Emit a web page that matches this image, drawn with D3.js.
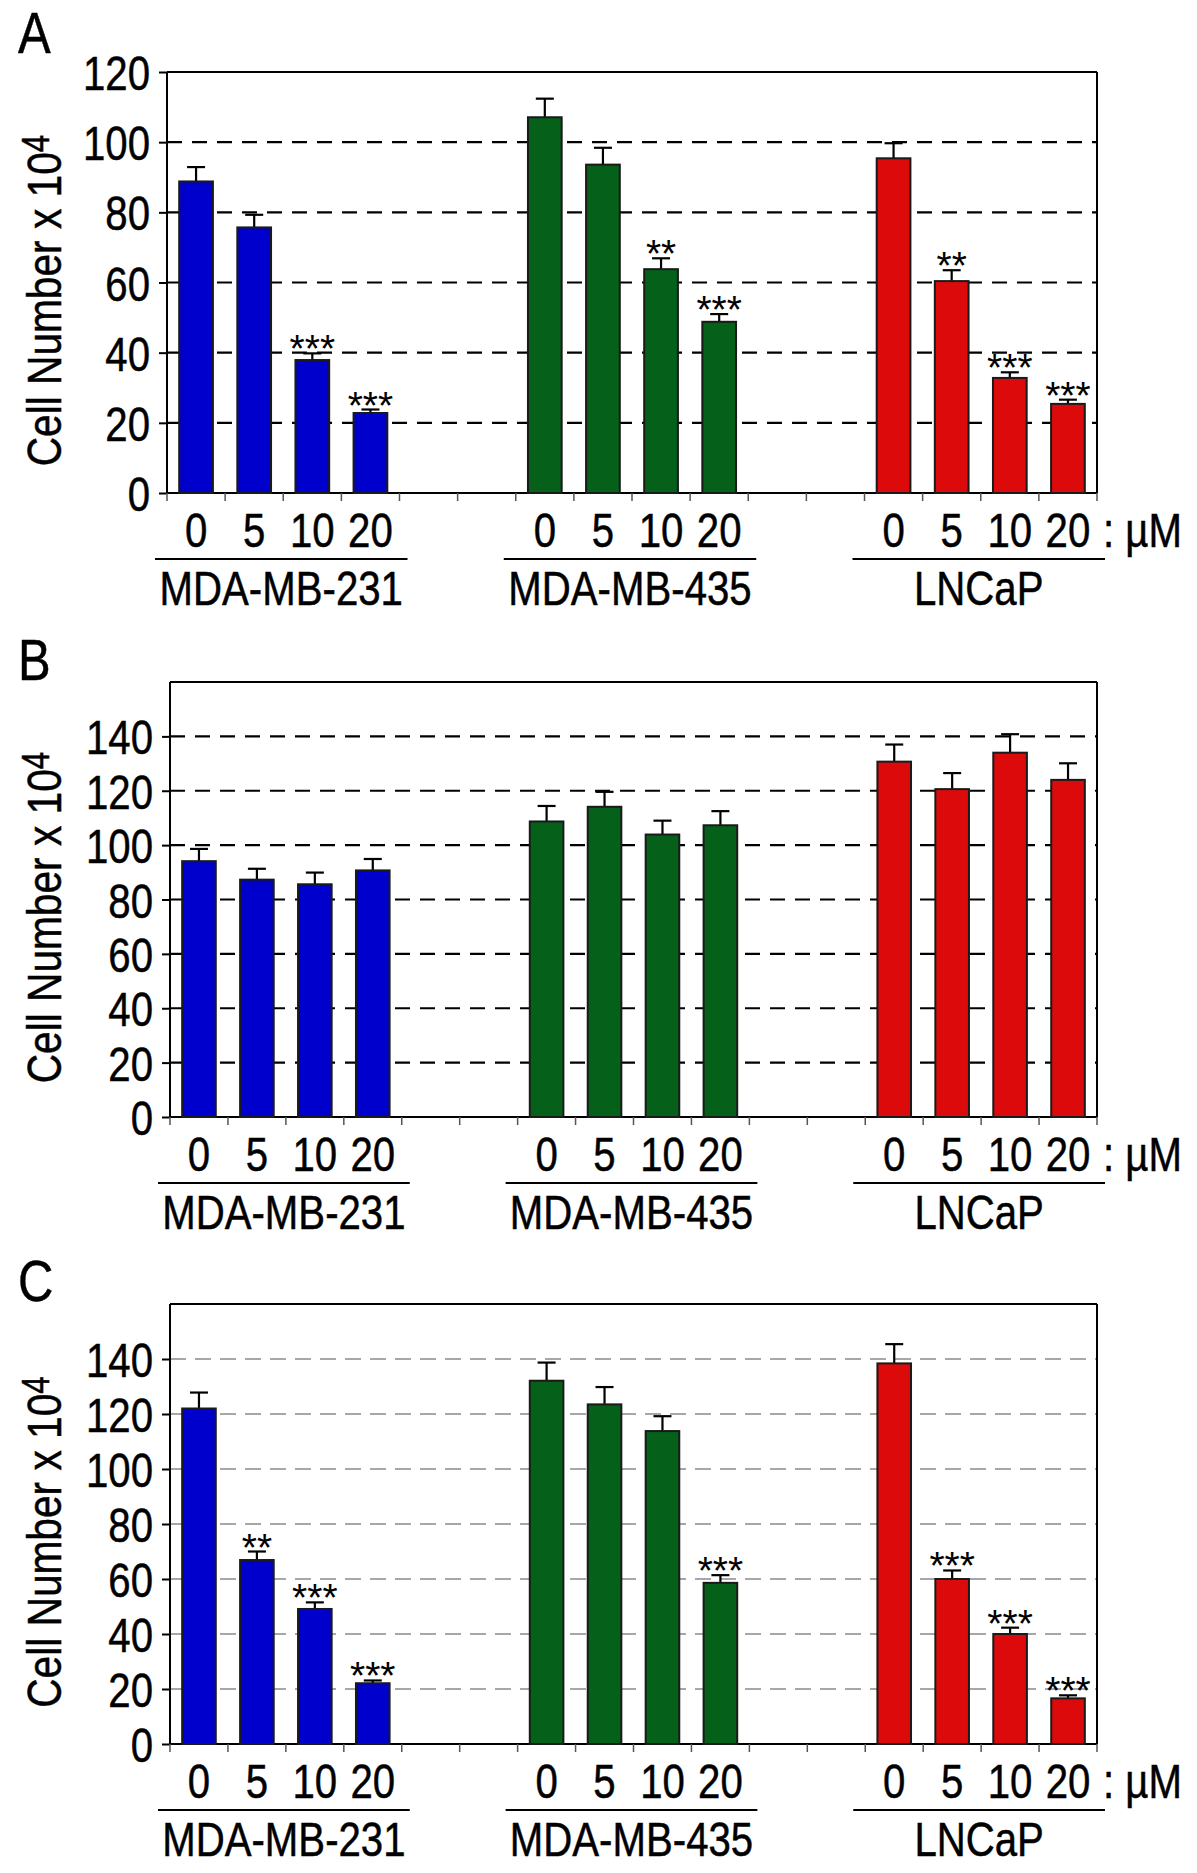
<!DOCTYPE html>
<html><head><meta charset="utf-8">
<script src="https://cdn.jsdelivr.net/npm/d3@7"></script>
<style>body{margin:0;background:#fff}</style>
</head><body>
<svg id="c" width="1197" height="1873"></svg>
<script>
// ---------- data ----------
const doses = ["0", "5", "10", "20"];
const cellLines = ["MDA-MB-231", "MDA-MB-435", "LNCaP"];
const panelLetters = ["A", "B", "C"];
const barColors = ["#0000cd", "#05601a", "#dc0a0a"];

const ticksA = [0, 20, 40, 60, 80, 100, 120];
const ticksBC = [0, 20, 40, 60, 80, 100, 120, 140];

const meanA = [[88.8, 75.7, 37.9, 22.8], [107.1, 93.6, 63.8, 48.8], [95.4, 60.4, 32.8, 25.4]];
const errA  = [[4.1, 3.6, 1.9, 1.0], [5.3, 4.8, 3.1, 2.2], [4.3, 3.1, 1.6, 1.2]];
const starsA = [["", "", "***", "***"], ["", "", "**", "***"], ["", "**", "***", "***"]];

const meanB = [[94.1, 87.3, 85.6, 90.7], [108.7, 114.1, 103.9, 107.3], [130.7, 120.6, 134.0, 124.0]];
const errB  = [[4.5, 4.0, 4.3, 4.2], [5.7, 5.5, 5.1, 5.2], [6.3, 5.9, 6.8, 6.1]];
const starsB = [["", "", "", ""], ["", "", "", ""], ["", "", "", ""]];

const meanC = [[122.0, 66.9, 49.1, 22.1], [132.1, 123.5, 113.8, 58.6], [138.4, 60.0, 40.0, 16.6]];
const errC  = [[5.8, 3.1, 2.4, 1.0], [6.6, 6.3, 5.4, 2.8], [7.0, 3.1, 2.3, 1.1]];
const starsC = [["", "**", "***", "***"], ["", "", "", "***"], ["", "***", "***", "***"]];

const yMaxA = 120, yMaxBC = 160;
const unitLabel = ": \u00b5M";
const yTitle = "Cell Number x 10";
const yTitleSup = "4";

// ---------- layout ----------
const FONT = "'Liberation Sans',Arial,sans-serif";
const SX = 0.82;  // horizontal condensing of the narrow face
const TXT_STROKE = 0.5;
const svg = d3.select("#c");

const panels = [
  {mean: meanA, err: errA, stars: starsA, ticks: ticksA, yMax: yMaxA, top: 72, bottom: 493, left: 167, right: 1097, letterY: 53, grid: "black"},
  {mean: meanB, err: errB, stars: starsB, ticks: ticksBC, yMax: yMaxBC, top: 682, bottom: 1117, left: 170, right: 1097, letterY: 680, grid: "black"},
  {mean: meanC, err: errC, stars: starsC, ticks: ticksBC, yMax: yMaxBC, top: 1304, bottom: 1744, left: 170, right: 1097, letterY: 1301, grid: "grey"}
];

function narrowText(parent, x, y, str, size, anchor, sx) {
  const g = parent.append("g").attr("transform", `translate(${x},${y}) scale(${sx || SX},1)`);
  g.append("text").attr("x", 0).attr("y", 0).attr("text-anchor", anchor || "middle")
    .attr("font-family", FONT).attr("font-size", size).attr("fill", "#000")
    .attr("stroke", "#000").attr("stroke-width", TXT_STROKE).text(str);
  return g;
}

const slotsPerGroup = 6; // 4 bars + 2 empty slots
const nSlots = 16;

panels.forEach((p, pi) => {
  const g = svg.append("g");
  const x = d3.scaleBand().domain(d3.range(nSlots)).range([p.left, p.right]).padding(0);
  const y = d3.scaleLinear().domain([0, p.yMax]).range([p.bottom, p.top]);
  const bw = x.bandwidth();
  const barW = bw * 0.58;

  // panel letter
  narrowText(g, 18, p.letterY, panelLetters[pi], 57, "start", 0.86);

  // gridlines
  const gridTicks = d3.range(20, p.yMax + 1, 20);
  g.selectAll(".grid").data(gridTicks).enter().append("line")
    .attr("x1", p.left).attr("x2", p.right)
    .attr("y1", d => y(d)).attr("y2", d => y(d))
    .attr("stroke", p.grid === "black" ? "#000" : "#8a8a8a")
    .attr("stroke-width", p.grid === "black" ? 2.2 : 1.5)
    .attr("stroke-dasharray", p.grid === "black" ? "15,10" : "16,9");

  // frame top and right
  g.append("line").attr("x1", p.left).attr("x2", p.right).attr("y1", p.top).attr("y2", p.top)
    .attr("stroke", "#000").attr("stroke-width", 2);
  g.append("line").attr("x1", p.right).attr("x2", p.right).attr("y1", p.top).attr("y2", p.bottom)
    .attr("stroke", "#000").attr("stroke-width", 2);

  // y axis
  const yAxis = d3.axisLeft(y).tickValues(p.ticks).tickSize(8).tickSizeOuter(0).tickPadding(9);
  const ya = g.append("g").attr("transform", `translate(${p.left},0)`).call(yAxis);
  ya.select(".domain").attr("stroke", "#000").attr("stroke-width", 2).attr("d", `M0,${p.bottom}V${p.top}`);
  ya.selectAll(".tick line").attr("stroke", "#000").attr("stroke-width", 2);
  ya.selectAll(".tick text").attr("font-family", FONT).attr("font-size", 49).attr("fill", "#000")
    .attr("stroke", "#000").attr("stroke-width", TXT_STROKE)
    .attr("dy", null).attr("y", 17.5).attr("x", -17 / SX).attr("transform", `scale(${SX},1)`);

  // x axis baseline + ticks at slot boundaries
  g.append("line").attr("x1", p.left).attr("x2", p.right).attr("y1", p.bottom).attr("y2", p.bottom)
    .attr("stroke", "#000").attr("stroke-width", 2);
  const bounds = d3.range(nSlots + 1).map(i => p.left + i * bw);
  g.selectAll(".xt").data(bounds).enter().append("line")
    .attr("x1", d => d).attr("x2", d => d).attr("y1", p.bottom).attr("y2", p.bottom + 8)
    .attr("stroke", "#555").attr("stroke-width", 1.5);

  // bars
  cellLines.forEach((cl, gi) => {
    const data = doses.map((d, di) => ({dose: d, di, slot: gi * slotsPerGroup + di,
      mean: p.mean[gi][di], err: p.err[gi][di], star: p.stars[gi][di]}));
    const cx = d => x(d.slot) + bw / 2;

    // error bars
    g.selectAll(null).data(data).enter().append("line")
      .attr("x1", cx).attr("x2", cx).attr("y1", d => y(d.mean)).attr("y2", d => y(d.mean + d.err))
      .attr("stroke", "#000").attr("stroke-width", 2.2);
    g.selectAll(null).data(data).enter().append("line")
      .attr("x1", d => cx(d) - 9).attr("x2", d => cx(d) + 9)
      .attr("y1", d => y(d.mean + d.err)).attr("y2", d => y(d.mean + d.err))
      .attr("stroke", "#000").attr("stroke-width", 2.2);

    g.selectAll(null).data(data).enter().append("rect")
      .attr("x", d => cx(d) - barW / 2).attr("width", barW)
      .attr("y", d => y(d.mean)).attr("height", d => y(0) - y(d.mean))
      .attr("fill", barColors[gi]).attr("stroke", "#1a1a1a").attr("stroke-width", 2);

    // stars
    g.selectAll(null).data(data.filter(d => d.star)).enter().append("text")
      .attr("x", cx).attr("y", d => y(d.mean + d.err) + 9)
      .attr("text-anchor", "middle").attr("font-family", FONT).attr("font-size", 39)
      .text(d => d.star);

    // dose labels
    data.forEach(d => narrowText(g, cx(d), p.bottom + 54, d.dose, 49, "middle"));

    // group line + label
    const gx0 = x(gi * slotsPerGroup) - 12;
    const gx1 = x(gi * slotsPerGroup + 3) + bw + 8;
    g.append("line").attr("x1", gx0).attr("x2", gx1).attr("y1", p.bottom + 66).attr("y2", p.bottom + 66)
      .attr("stroke", "#000").attr("stroke-width", 2);
    narrowText(g, x(gi * slotsPerGroup) + 2 * bw - 2, p.bottom + 112, cl, 49, "middle");
  });

  // unit label
  narrowText(g, p.right + 6, p.bottom + 54, unitLabel, 49, "start");

  // y title
  const tg = g.append("g")
    .attr("transform", `translate(61,${(p.top + p.bottom) / 2 + 18}) rotate(-90) scale(0.83,1)`);
  const t = tg.append("text").attr("x", 0).attr("y", 0)
    .attr("text-anchor", "middle").attr("font-family", FONT).attr("font-size", 49)
    .attr("stroke", "#000").attr("stroke-width", TXT_STROKE);
  t.append("tspan").text(yTitle);
  t.append("tspan").attr("font-size", 38).attr("dy", -12).text(yTitleSup);
});
</script>
</body></html>
